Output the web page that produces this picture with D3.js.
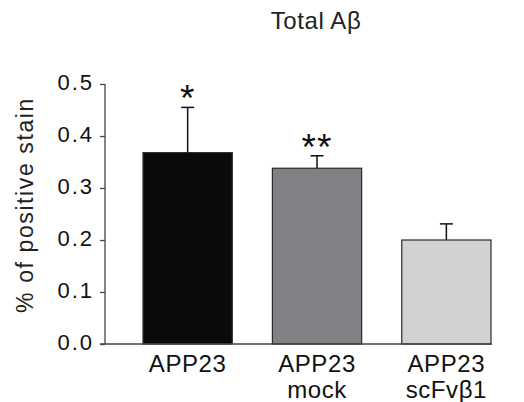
<!DOCTYPE html>
<html lang="en">
<head>
<meta charset="utf-8">
<title>Total Aβ</title>
<script src="https://d3js.org/d3.v7.min.js"></script>
<style>
    body { margin: 0; background: #fff; }
    svg { display: block; font-family: "Liberation Sans", Arial, sans-serif; }
</style>
</head>
<body>
<svg id="chart" width="524" height="402"></svg>
<script>
    // data
    const groups = [["APP23"], ["APP23", "mock"], ["APP23", "scFvβ1"]];
    const means = [0.368, 0.338, 0.200];
    const errors = [0.087, 0.024, 0.031];
    const marks = ["*", "**", ""];
    const fills = ["#0a0a0a", "#808184", "#d1d2d4"];
    const yTicks = [0, 0.1, 0.2, 0.3, 0.4, 0.5];

    const svg = d3.select("#chart");
    const m = { left: 105, right: 491, top: 84, bottom: 344 };

    const x = d3.scaleBand()
        .domain(d3.range(groups.length))
        .range([m.left, m.right])
        .paddingInner(0.31)
        .paddingOuter(0.147)
        .align(1);

    const y = d3.scaleLinear().domain([0, 0.5]).range([m.bottom, m.top]);

    // title
    svg.append("text")
        .attr("x", 316).attr("y", 29)
        .attr("text-anchor", "middle")
        .style("font-size", "24px")
        .style("letter-spacing", "0.6px")
        .attr("fill", "#222")
        .text("Total Aβ");

    // y axis
    const yAxis = svg.append("g")
        .attr("transform", `translate(${m.left},0)`)
        .call(d3.axisLeft(y).tickValues(yTicks).tickFormat(d3.format(".1f")).tickSize(5).tickPadding(6));
    yAxis.select(".domain").attr("stroke", "#444").attr("stroke-width", 1.3).attr("d", `M0,${m.top}V${m.bottom}`);
    yAxis.selectAll(".tick line").attr("stroke", "#444").attr("stroke-width", 1.3);
    yAxis.selectAll(".tick text")
        .attr("fill", "#111")
        .attr("dy", "0.26em")
        .style("font-size", "22px")
        .style("letter-spacing", "2px")
        .style("font-family", "\"Liberation Sans\", Arial, sans-serif");

    svg.append("text")
        .attr("transform", `translate(33,205) rotate(-90)`)
        .attr("text-anchor", "middle")
        .style("font-size", "23px")
        .style("letter-spacing", "1.6px")
        .attr("fill", "#222")
        .text("% of positive stain");

    // bars
    svg.append("g").selectAll("rect")
        .data(means)
        .join("rect")
        .attr("x", (d, i) => x(i))
        .attr("y", d => y(d))
        .attr("width", x.bandwidth())
        .attr("height", d => y(0) - y(d))
        .attr("fill", (d, i) => fills[i])
        .attr("stroke", "#2a2a2a")
        .attr("stroke-width", 1.2);

    // upper error whiskers
    const err = svg.append("g").attr("stroke", "#111").attr("stroke-width", 1.5);
    means.forEach((v, i) => {
        const cx = x(i) + x.bandwidth() / 2;
        err.append("line").attr("x1", cx).attr("x2", cx).attr("y1", y(v)).attr("y2", y(v + errors[i]));
        err.append("line").attr("x1", cx - 6.5).attr("x2", cx + 6.5).attr("y1", y(v + errors[i])).attr("y2", y(v + errors[i]));
    });

    // significance marks
    svg.append("g").selectAll("text")
        .data(marks)
        .join("text")
        .attr("x", (d, i) => x(i) + x.bandwidth() / 2)
        .attr("y", (d, i) => y(means[i] + errors[i]) + 4)
        .attr("text-anchor", "middle")
        .style("font-size", "37px")
        .style("letter-spacing", "1px")
        .attr("fill", "#111")
        .text(d => d);

    // x axis line
    svg.append("line")
        .attr("x1", m.left - 5).attr("x2", m.right + 1)
        .attr("y1", m.bottom).attr("y2", m.bottom)
        .attr("stroke", "#444").attr("stroke-width", 1.3);

    // category labels
    const cats = svg.append("g").selectAll("text")
        .data(groups)
        .join("text")
        .attr("x", (d, i) => x(i) + x.bandwidth() / 2)
        .attr("y", 372)
        .attr("text-anchor", "middle")
        .style("font-size", "24px")
        .style("letter-spacing", "0.6px")
        .attr("fill", "#111");
    cats.selectAll("tspan")
        .data(d => d)
        .join("tspan")
        .attr("x", function () { return this.parentNode.getAttribute("x"); })
        .attr("dy", (d, j) => j === 0 ? 0 : 26)
        .text(d => d);
</script>
</body>
</html>
